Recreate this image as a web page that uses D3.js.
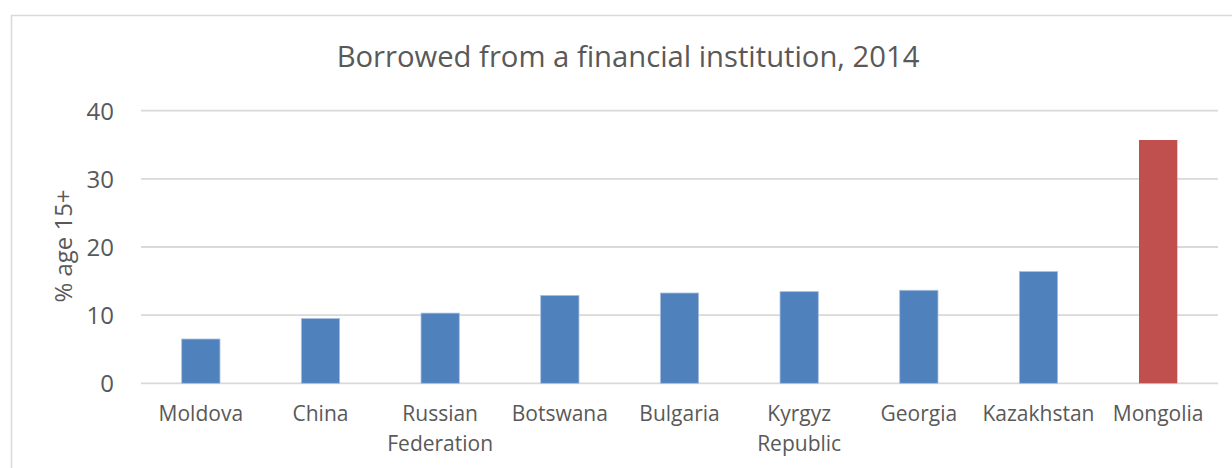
<!DOCTYPE html>
<html>
<head>
<meta charset="utf-8">
<script src="https://cdn.jsdelivr.net/npm/d3@7"></script>
<style>
  html, body { margin: 0; padding: 0; background: #fff; }
  svg { display: block; }
  text { font-family: "Open Sans", sans-serif; fill: #595959; }
</style>
</head>
<body>
<svg id="chart" width="1232" height="468"></svg>
<script>
const title = "Borrowed from a financial institution, 2014";
const yAxisTitle = "% age 15+";
const categories = ["Moldova", "China", "Russian Federation", "Botswana", "Bulgaria", "Kyrgyz Republic", "Georgia", "Kazakhstan", "Mongolia"];
const categoryLines = [["Moldova"], ["China"], ["Russian", "Federation"], ["Botswana"], ["Bulgaria"], ["Kyrgyz", "Republic"], ["Georgia"], ["Kazakhstan"], ["Mongolia"]];
const values = [6.5, 9.5, 10.3, 12.9, 13.25, 13.45, 13.65, 16.4, 35.7];
const highlight = ["Mongolia"];
const yTicks = [0, 10, 20, 30, 40];

const svg = d3.select("#chart");

// frame
svg.append("path")
  .attr("d", "M11.5,468 L11.5,15.5 L1232,15.5")
  .attr("fill", "none").attr("stroke", "#d9d9d9").attr("stroke-width", 1.5);

const x = d3.scaleBand().domain(categories).range([141, 1218]).paddingInner(0.68).paddingOuter(0.34);
const y = d3.scaleLinear().domain([0, 40]).range([383.3, 110.7]);

function fit(sel, target) {
  sel.attr("font-size", 100);
  const w = sel.node().getComputedTextLength();
  sel.attr("font-size", 100 * target / w);
}

// gridlines
svg.append("g").selectAll("line").data(yTicks).join("line")
  .attr("x1", 141).attr("x2", 1218)
  .attr("y1", d => y(d)).attr("y2", d => y(d))
  .attr("stroke", "#d9d9d9").attr("stroke-width", 1.8);

// y axis
const yAxis = d3.axisLeft(y).tickValues(yTicks).tickSize(0).tickPadding(0).tickFormat(d3.format("d"));
const gy = svg.append("g").attr("transform", "translate(114,0)").call(yAxis);
gy.select(".domain").remove();
gy.selectAll("text").attr("font-size", 24).attr("font-family", "Open Sans").attr("fill", "#595959").attr("dy", "0.36em");

// bars
svg.append("g").selectAll("rect").data(categories).join("rect")
  .attr("x", d => x(d))
  .attr("width", x.bandwidth())
  .attr("y", (d, i) => y(values[i]))
  .attr("height", (d, i) => y(0) - y(values[i]))
  .attr("fill", d => highlight.includes(d) ? "#c0504d" : "#4f81bd")
  .attr("stroke", d => highlight.includes(d) ? "none" : "#a9c1e0")
  .attr("stroke-width", 0.8);

// x labels
const gx = svg.append("g");
categories.forEach((c, i) => {
  const t = gx.append("text")
    .attr("text-anchor", "middle")
    .attr("font-size", 21)
    .attr("x", x(c) + x.bandwidth() / 2)
    .attr("y", 421);
  categoryLines[i].forEach((ln, j) => {
    t.append("tspan").attr("x", x(c) + x.bandwidth() / 2).attr("dy", j === 0 ? 0 : 30).text(ln);
  });
});

// y axis title
const yt = svg.append("text")
  .attr("text-anchor", "middle")
  .attr("transform", "translate(72,246) rotate(-90)")
  .text(yAxisTitle);
fit(yt, 113);

// title
const tt = svg.append("text")
  .attr("text-anchor", "middle")
  .attr("x", 628).attr("y", 67)
  .text(title);
fit(tt, 583);
</script>
</body>
</html>
